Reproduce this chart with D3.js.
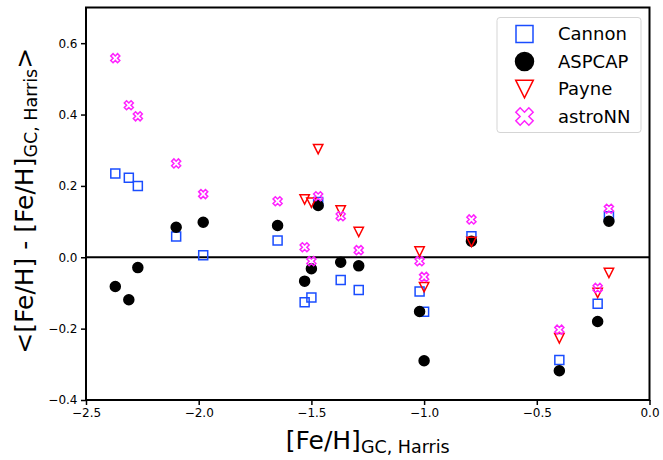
<!DOCTYPE html>
<html lang="en">
  <head>
    <meta charset="utf-8">
    <title>Fe/H offsets against Harris GC metallicity</title>
    <style>
      body { margin: 0; background: white; }
      svg { display: block; font-family: "DejaVu Sans", sans-serif; }
    </style>
    <script src="https://d3js.org/d3.v7.min.js"></script>
  </head>
  <body>
    <div class="chart"></div>
    <script>

    // cluster [Fe/H] from Harris, and mean offsets per pipeline (null = no point)
    const fehHarris = [-2.37, -2.31, -2.27, -2.10, -1.98, -1.65, -1.53, -1.50, -1.47, -1.37, -1.29, -1.02, -1.00, -0.79, -0.40, -0.23, -0.18]
    const cannon  = [0.235, 0.223, 0.200, 0.058, 0.006, 0.047, -0.126, -0.113, 0.155, -0.064, -0.092, -0.096, -0.153, 0.059, -0.288, -0.130, 0.115]
    const aspcap  = [-0.082, -0.119, -0.029, 0.084, 0.098, 0.089, -0.067, -0.032, 0.145, -0.014, -0.024, -0.152, -0.290, 0.045, -0.318, -0.180, 0.101]
    const payne   = [null, null, null, null, null, null, 0.162, 0.153, 0.303, 0.131, 0.071, 0.016, -0.084, 0.043, -0.227, -0.100, -0.044]
    const astronn = [0.558, 0.426, 0.395, 0.263, 0.177, 0.157, 0.028, -0.011, 0.171, 0.115, 0.020, -0.011, -0.055, 0.106, -0.203, -0.086, 0.136]

    const xTicks = [-2.5, -2.0, -1.5, -1.0, -0.5, 0.0]
    const yTicks = [-0.4, -0.2, 0.0, 0.2, 0.4, 0.6]

    const W = 663, H = 460
    const margin = { top: 7.5, left: 86, bottom: 60, right: 13.5 }
    const width = W - margin.left - margin.right,
      height = H - margin.top - margin.bottom

    const x = d3.scaleLinear().domain([-2.5, 0]).range([0, width])
    const y = d3.scaleLinear().domain([-0.4, 0.7]).range([height, 0])

    const blue = "#1a4dff", red = "#ff0000", magenta = "#ff22ff"

    // marker shapes, s = half size
    const square = s => `M${-s},${-s}H${s}V${s}H${-s}Z`
    const tri = s => `M${-s},${-s}L${s},${-s}L0,${s}Z`
    const xMark = s => {
      const w = 1/3
      const pts = [[w,w],[w,1],[-w,1],[-w,w],[-1,w],[-1,-w],[-w,-w],[-w,-1],[w,-1],[w,-w],[1,-w],[1,w]]
      const c = Math.SQRT1_2
      return "M" + pts.map(([a,b]) => [(a*c - b*c)*s, (a*c + b*c)*s].map(v => v.toFixed(2)).join(",")).join("L") + "Z"
    }
    const circle = r => `M${-r},0A${r},${r} 0 1,0 ${r},0A${r},${r} 0 1,0 ${-r},0Z`

    const series = [
      { name: "Cannon", values: cannon, path: square(4.5), legend: square(8.5), fill: "none", stroke: blue },
      { name: "ASPCAP", values: aspcap, path: circle(5), legend: circle(9), fill: "black", stroke: "black" },
      { name: "Payne", values: payne, path: tri(4.7), legend: tri(8.8), fill: "none", stroke: red },
      { name: "astroNN", values: astronn, path: xMark(4.8), legend: xMark(9.2), fill: "none", stroke: magenta }
    ]

    const svg = d3.select(".chart")
      .append("svg")
      .attr("width", W)
      .attr("height", H)

    const g = svg.append("g")
      .attr("transform", `translate(${margin.left},${margin.top})`)

    // axes
    const xAxis = g.append("g")
      .attr("transform", `translate(0,${height})`)
      .call(d3.axisBottom(x).tickValues(xTicks).tickFormat(d3.format(".1f")).tickSize(5).tickPadding(3.5))
    const yAxis = g.append("g")
      .call(d3.axisLeft(y).tickValues(yTicks).tickFormat(d3.format(".1f")).tickSize(5).tickPadding(3.5))

    ;[xAxis, yAxis].forEach(a => {
      a.select(".domain").remove()
      a.selectAll(".tick line").attr("stroke", "black").attr("stroke-width", 1.5)
      a.selectAll(".tick text").attr("fill", "black").style("font-size", "12px").style("font-family", "DejaVu Sans")
    })

    // zero line
    g.append("line")
      .attr("x1", 0).attr("x2", width)
      .attr("y1", y(0)).attr("y2", y(0))
      .attr("stroke", "black")
      .attr("stroke-width", 2)

    // points
    series.forEach(s => {
      g.append("g")
        .selectAll("path")
        .data(fehHarris.map((f, i) => ({ f, v: s.values[i] })).filter(d => d.v !== null))
        .join("path")
        .attr("transform", d => `translate(${x(d.f)},${y(d.v)})`)
        .attr("d", s.path)
        .attr("fill", s.fill)
        .attr("stroke", s.stroke)
        .attr("stroke-width", 1.5)
    })

    // frame
    g.append("rect")
      .attr("width", width)
      .attr("height", height)
      .attr("fill", "none")
      .attr("stroke", "black")
      .attr("stroke-width", 2)

    // legend
    const leg = svg.append("g").attr("transform", "translate(497,17.5)")
    leg.append("rect")
      .attr("width", 144)
      .attr("height", 115)
      .attr("rx", 3)
      .attr("fill", "white")
      .attr("fill-opacity", 0.8)
      .attr("stroke", "#d5d5d5")
      .attr("stroke-width", 1)

    series.forEach((s, i) => {
      const row = leg.append("g").attr("transform", `translate(0,${16.5 + i * 27.5})`)
      row.append("path")
        .attr("transform", "translate(27.5,0)")
        .attr("d", s.legend)
        .attr("fill", s.fill)
        .attr("stroke", s.stroke)
        .attr("stroke-width", 1.5)
      row.append("text")
        .attr("x", 61)
        .attr("y", 6.3)
        .style("font-size", "18px")
        .text(s.name)
    })

    // x label
    const xl = svg.append("text")
      .attr("x", margin.left + width / 2)
      .attr("y", 449)
      .attr("text-anchor", "middle")
      .style("font-size", "25px")
    xl.append("tspan").text("[Fe/H]")
    xl.append("tspan").attr("dy", 4).style("font-size", "17.5px").text("GC, Harris")

    // y label
    const yl = svg.append("text")
      .attr("transform", `translate(32.5,${margin.top + height / 2 - 3}) rotate(-90)`)
      .attr("text-anchor", "middle")
      .style("font-size", "25px")
    yl.append("tspan").text("<[Fe/H] - [Fe/H]")
    yl.append("tspan").attr("dy", 4).style("font-size", "17.5px").text("GC, Harris")
    yl.append("tspan").attr("dy", -4).text(">")

    </script>
  </body>
</html>
